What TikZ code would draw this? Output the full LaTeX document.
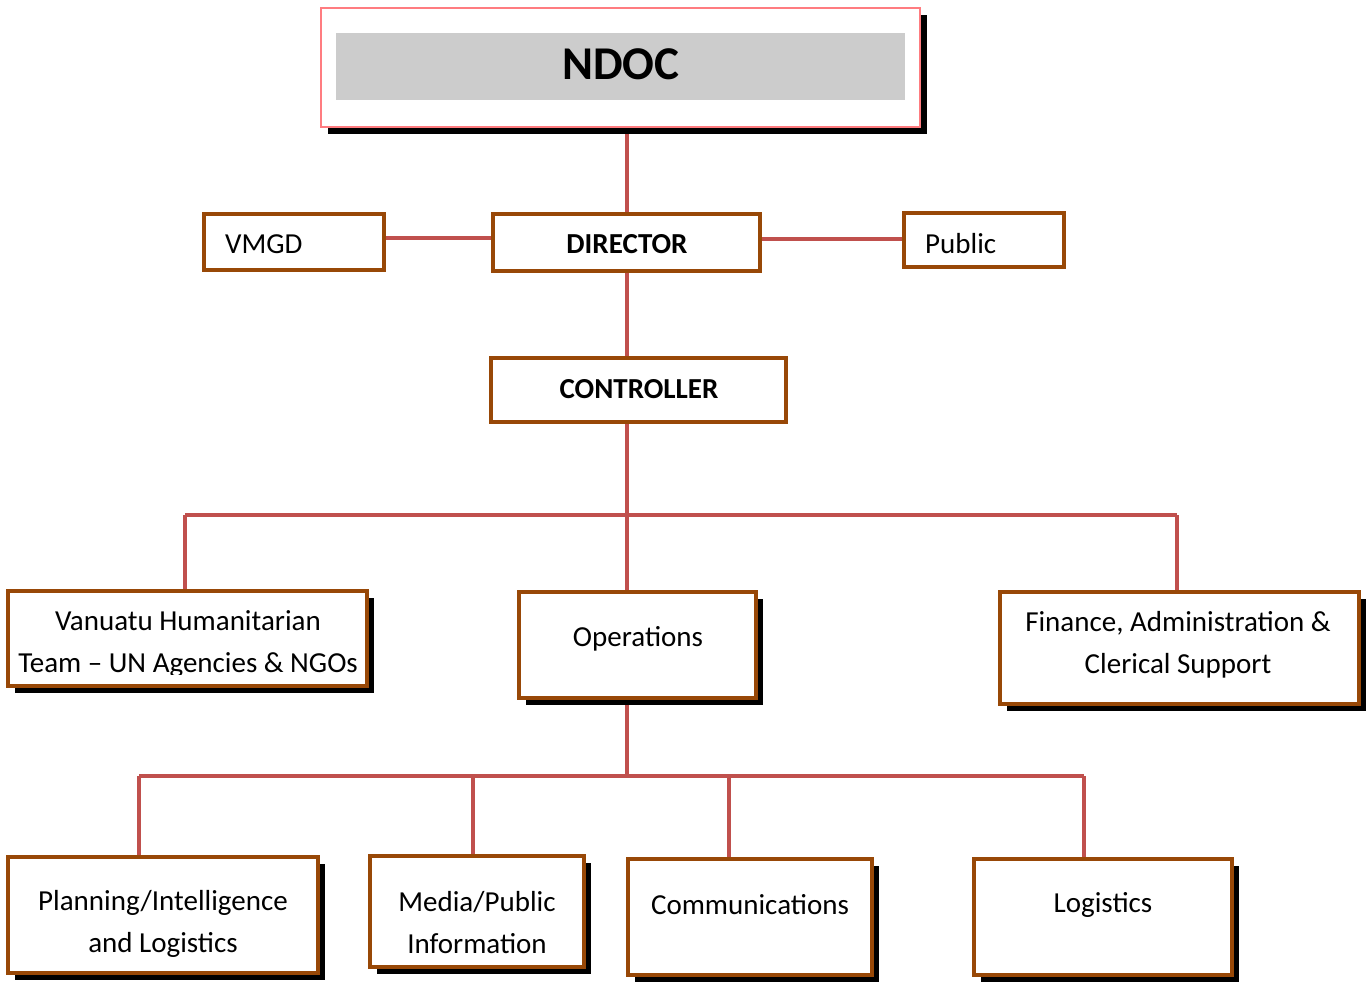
\documentclass[tikz,border=0pt]{standalone}
\usepackage{fontspec}
\setmainfont{Carlito}
\usetikzlibrary{shadows,backgrounds}
\definecolor{boxbrown}{HTML}{984807}
\definecolor{linkred}{HTML}{C0504D}
\definecolor{ndocpink}{HTML}{FF7C80}
\definecolor{bandgray}{HTML}{CCCCCC}
\tikzset{
  orgbox/.style={draw=boxbrown, line width=4pt, fill=white, rectangle, inner sep=0pt},
  shadowbox/.style={orgbox, drop shadow={shadow xshift=7pt, shadow yshift=-7pt, fill=black, opacity=1}},
  link/.style={draw=linkred, line width=4pt},
  lbl/.style={font=\fontsize{29}{42}\selectfont, align=center, inner sep=0pt},
  blbl/.style={lbl, font=\fontsize{29}{42}\selectfont\bfseries},
}
\begin{document}
\begin{tikzpicture}[x=1pt,y=-1pt]
\useasboundingbox (0,0) rectangle (1367,983);
% NDOC
\node[draw=ndocpink, line width=2pt, fill=white, minimum width=599pt, minimum height=119pt, inner sep=0pt,
      drop shadow={shadow xshift=7pt, shadow yshift=-7pt, fill=black, opacity=1}] (ndoc) at (620.5,67.5) {};
\node[fill=bandgray, minimum width=569pt, minimum height=67pt, inner sep=0pt] (band) at (620.5,66.5) {};
\node[inner sep=0pt, font=\fontsize{47}{50}\selectfont\bfseries] (ndocT) at (621,64) {NDOC};
% second tier
\node[orgbox, minimum width=180pt, minimum height=56pt] (vmgd) at (294,242) {};
\node[lbl, anchor=west] (vmgdT) at (225,244) {VMGD};
\node[orgbox, minimum width=267pt, minimum height=57pt] (director) at (626.5,242.5) {};
\node[blbl] (directorT) at (627,244) {DIRECTOR};
\node[orgbox, minimum width=160pt, minimum height=54pt] (public) at (984,240) {};
\node[lbl, anchor=west] (publicT) at (925,244) {Public};
\node[orgbox, minimum width=295pt, minimum height=64pt] (controller) at (638.5,390) {};
\node[blbl] (controllerT) at (639,389) {CONTROLLER};
% third tier
\node[shadowbox, minimum width=359pt, minimum height=95pt] (vanuatu) at (187.5,638.5) {};
\begin{scope}
\clip (0,590) rectangle (380,674);
\node[lbl] (vanuatuT) at (188,644) {Vanuatu Humanitarian\\Team -- UN Agencies \& NGOs};
\end{scope}
\node[shadowbox, minimum width=237pt, minimum height=106pt] (ops) at (637.5,645) {};
\node[lbl] (opsT) at (638,639) {Operations};
\node[shadowbox, minimum width=359pt, minimum height=112pt] (finance) at (1179.5,648) {};
\node[lbl] (financeT) at (1178,645) {Finance, Administration \&\\Clerical Support};
% fourth tier
\node[shadowbox, minimum width=310pt, minimum height=116pt] (planning) at (163,915) {};
\node[lbl] (planningT) at (163,924) {Planning/Intelligence\\and Logistics};
\node[shadowbox, minimum width=214pt, minimum height=111pt] (media) at (477,911.5) {};
\node[lbl] (mediaT) at (477,923) {Media/Public\\Information};
\node[shadowbox, minimum width=244pt, minimum height=116pt] (comms) at (750,917) {};
\node[lbl] (commsT) at (750,905) {Communications};
\node[shadowbox, minimum width=258pt, minimum height=116pt] (logistics) at (1103,917) {};
\node[lbl] (logisticsT) at (1103,905) {Logistics};
% connectors
\coordinate (b1) at (627,515);
\coordinate (b1L) at (185,515);
\coordinate (b1R) at (1177,515);
\coordinate (b2) at (627,776);
\coordinate (b2L) at (139,776);
\coordinate (b2M) at (473,776);
\coordinate (b2C) at (729,776);
\coordinate (b2R) at (1084,776);
\begin{scope}[on background layer]
\draw[link] (director.north |- ndoc.south) -- (director.north);
\draw[link] ([yshift=4pt]vmgd.east) -- ([yshift=4pt]vmgd.east -| director.west);
\draw[link] ([yshift=4pt]director.east) -- ([yshift=4pt]director.east -| public.west);
\draw[link] (director.south) -- (director.south |- controller.north);
\draw[link] (b1 |- controller.south) -- (b1);
\draw[link] (b1L) -- (b1R);
\draw[link] (b1L) -- (b1L |- vanuatu.north);
\draw[link] (b1) -- (b1 |- ops.north);
\draw[link] (b1R) -- (b1R |- finance.north);
\draw[link] (b2 |- ops.south) -- (b2);
\draw[link] (b2L) -- (b2R);
\draw[link] (b2L) -- (b2L |- planning.north);
\draw[link] (b2M) -- (b2M |- media.north);
\draw[link] (b2C) -- (b2C |- comms.north);
\draw[link] (b2R) -- (b2R |- logistics.north);
\end{scope}
\end{tikzpicture}
\end{document}
